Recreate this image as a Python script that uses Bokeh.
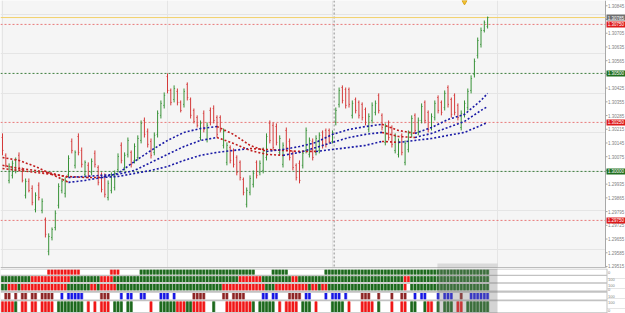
from bokeh.plotting import figure
from bokeh.layouts import column
from bokeh.models import Range1d, BoxAnnotation
from bokeh.embed import file_html
from bokeh.resources import INLINE
from bokeh.core.properties import value

# ---------------- data ----------------
opens = [1.30173, 1.30082, 1.29954, 1.29980, 1.30005, 1.30082, 1.30010, 1.29878, 1.29949, 1.29913,
         1.29806, 1.29929, 1.29801, 1.29755, 1.29592, 1.29663, 1.29714, 1.29827, 1.29903, 1.29888,
         1.29985, 1.30153, 1.30031, 1.30178, 1.30107, 1.29985, 1.30031, 1.29995, 1.30092, 1.30020,
         1.29980, 1.29974, 1.29867, 1.29903, 1.29918, 1.30010, 1.30133, 1.30020, 1.30087, 1.30097,
         1.30056, 1.30071, 1.30158, 1.30260, 1.30204, 1.30153, 1.30097, 1.30189, 1.30286, 1.30337,
         1.30484, 1.30413, 1.30367, 1.30408, 1.30352, 1.30342, 1.30444, 1.30367, 1.30311, 1.30275,
         1.30173, 1.30296, 1.30163, 1.30311, 1.30321, 1.30275, 1.30275, 1.30133, 1.30046, 1.30122,
         1.30107, 1.30071, 1.30046, 1.29959, 1.29832, 1.29893, 1.29934, 1.30046, 1.29995, 1.30005,
         1.30071, 1.30245, 1.30235, 1.30229, 1.30097, 1.30036, 1.30209, 1.30153, 1.30097, 1.30031,
         1.30041, 1.30031, 1.30107, 1.30087, 1.30153, 1.30097, 1.30107, 1.30199, 1.30209, 1.30209,
         1.30153, 1.30250, 1.30342, 1.30428, 1.30418, 1.30418, 1.30286, 1.30367, 1.30352, 1.30342,
         1.30316, 1.30214, 1.30260, 1.30301, 1.30388, 1.30286, 1.30148, 1.30250, 1.30224, 1.30107,
         1.30087, 1.30184, 1.30046, 1.30112, 1.30189, 1.30286, 1.30199, 1.30260, 1.30352, 1.30301,
         1.30224, 1.30275, 1.30377, 1.30352, 1.30326, 1.30428, 1.30367, 1.30388, 1.30337, 1.30224,
         1.30291, 1.30326, 1.30413, 1.30495, 1.30592, 1.30648, 1.30719, 1.30739]
highs = [1.30194, 1.30092, 1.30041, 1.30056, 1.30071, 1.30097, 1.30020, 1.29964, 1.29964, 1.29929,
         1.29893, 1.29944, 1.29862, 1.29765, 1.29684, 1.29714, 1.29801, 1.29939, 1.29964, 1.29969,
         1.30082, 1.30168, 1.30107, 1.30194, 1.30122, 1.30056, 1.30046, 1.30066, 1.30107, 1.30031,
         1.29995, 1.29990, 1.29954, 1.29995, 1.30005, 1.30092, 1.30148, 1.30097, 1.30173, 1.30107,
         1.30143, 1.30184, 1.30260, 1.30275, 1.30219, 1.30168, 1.30199, 1.30311, 1.30362, 1.30403,
         1.30500, 1.30423, 1.30439, 1.30423, 1.30362, 1.30423, 1.30454, 1.30377, 1.30321, 1.30286,
         1.30260, 1.30311, 1.30250, 1.30326, 1.30337, 1.30286, 1.30286, 1.30219, 1.30148, 1.30133,
         1.30117, 1.30082, 1.30056, 1.29969, 1.29918, 1.29980, 1.30005, 1.30056, 1.30056, 1.30122,
         1.30194, 1.30260, 1.30250, 1.30245, 1.30184, 1.30148, 1.30224, 1.30168, 1.30107, 1.30041,
         1.30056, 1.30107, 1.30224, 1.30173, 1.30168, 1.30184, 1.30199, 1.30209, 1.30219, 1.30219,
         1.30209, 1.30326, 1.30428, 1.30439, 1.30428, 1.30428, 1.30362, 1.30377, 1.30362, 1.30352,
         1.30326, 1.30296, 1.30352, 1.30362, 1.30398, 1.30296, 1.30245, 1.30260, 1.30235, 1.30194,
         1.30168, 1.30194, 1.30158, 1.30209, 1.30286, 1.30296, 1.30275, 1.30347, 1.30362, 1.30311,
         1.30296, 1.30362, 1.30388, 1.30362, 1.30413, 1.30439, 1.30377, 1.30398, 1.30347, 1.30311,
         1.30362, 1.30423, 1.30490, 1.30576, 1.30683, 1.30734, 1.30770, 1.30790]
lows = [1.30082, 1.30020, 1.29939, 1.29964, 1.29990, 1.30005, 1.29944, 1.29862, 1.29893, 1.29827,
        1.29791, 1.29852, 1.29786, 1.29663, 1.29572, 1.29648, 1.29699, 1.29811, 1.29888, 1.29867,
        1.29969, 1.30092, 1.30015, 1.30082, 1.30020, 1.29969, 1.29964, 1.29980, 1.30020, 1.29929,
        1.29893, 1.29867, 1.29852, 1.29888, 1.29903, 1.29995, 1.30041, 1.30005, 1.30071, 1.30020,
        1.30041, 1.30056, 1.30143, 1.30173, 1.30122, 1.30066, 1.30082, 1.30173, 1.30270, 1.30321,
        1.30398, 1.30337, 1.30352, 1.30337, 1.30301, 1.30326, 1.30362, 1.30270, 1.30245, 1.30224,
        1.30158, 1.30199, 1.30148, 1.30235, 1.30245, 1.30173, 1.30199, 1.30117, 1.30031, 1.30041,
        1.30020, 1.29980, 1.29954, 1.29878, 1.29816, 1.29878, 1.29918, 1.29964, 1.29980, 1.29990,
        1.30056, 1.30143, 1.30107, 1.30133, 1.30082, 1.30020, 1.30107, 1.30056, 1.30005, 1.29954,
        1.29939, 1.30015, 1.30092, 1.30071, 1.30056, 1.30082, 1.30092, 1.30117, 1.30122, 1.30143,
        1.30143, 1.30235, 1.30326, 1.30347, 1.30321, 1.30326, 1.30270, 1.30296, 1.30270, 1.30260,
        1.30235, 1.30199, 1.30245, 1.30286, 1.30296, 1.30209, 1.30133, 1.30158, 1.30122, 1.30092,
        1.30071, 1.30082, 1.30031, 1.30097, 1.30173, 1.30194, 1.30184, 1.30245, 1.30245, 1.30199,
        1.30209, 1.30260, 1.30296, 1.30286, 1.30311, 1.30326, 1.30275, 1.30286, 1.30260, 1.30209,
        1.30275, 1.30311, 1.30398, 1.30479, 1.30576, 1.30632, 1.30709, 1.30729]
closes = [1.30107, 1.30031, 1.30025, 1.30041, 1.30061, 1.30020, 1.29954, 1.29949, 1.29903, 1.29842,
          1.29878, 1.29867, 1.29847, 1.29679, 1.29668, 1.29704, 1.29786, 1.29923, 1.29949, 1.29954,
          1.30066, 1.30107, 1.30097, 1.30097, 1.30036, 1.30046, 1.29980, 1.30051, 1.30036, 1.29944,
          1.29908, 1.29883, 1.29939, 1.29980, 1.29990, 1.30076, 1.30056, 1.30082, 1.30158, 1.30036,
          1.30127, 1.30168, 1.30245, 1.30189, 1.30138, 1.30082, 1.30184, 1.30296, 1.30347, 1.30388,
          1.30413, 1.30352, 1.30423, 1.30352, 1.30311, 1.30408, 1.30377, 1.30286, 1.30255, 1.30235,
          1.30245, 1.30214, 1.30235, 1.30250, 1.30260, 1.30189, 1.30209, 1.30204, 1.30133, 1.30056,
          1.30036, 1.29995, 1.29969, 1.29893, 1.29903, 1.29964, 1.29990, 1.29980, 1.30041, 1.30107,
          1.30178, 1.30158, 1.30122, 1.30148, 1.30168, 1.30133, 1.30122, 1.30071, 1.30020, 1.29969,
          1.29954, 1.30092, 1.30209, 1.30158, 1.30071, 1.30168, 1.30184, 1.30133, 1.30138, 1.30153,
          1.30199, 1.30311, 1.30413, 1.30362, 1.30337, 1.30342, 1.30347, 1.30311, 1.30286, 1.30275,
          1.30250, 1.30280, 1.30337, 1.30347, 1.30311, 1.30224, 1.30229, 1.30173, 1.30138, 1.30178,
          1.30153, 1.30097, 1.30143, 1.30194, 1.30270, 1.30209, 1.30260, 1.30331, 1.30260, 1.30214,
          1.30280, 1.30347, 1.30311, 1.30301, 1.30398, 1.30342, 1.30291, 1.30301, 1.30275, 1.30296,
          1.30347, 1.30408, 1.30474, 1.30561, 1.30668, 1.30719, 1.30760, 1.30785]

ma_idx = [0, 5, 10, 15, 20, 25, 30, 35, 40, 45, 50, 55, 60, 65, 70, 75, 80, 85, 90, 95,
          100, 105, 110, 115, 120, 125, 130, 135, 140, 145, 147]
ma_fast = [1.30071, 1.30056, 1.30025, 1.29985, 1.29944, 1.29954, 1.29969, 1.29990, 1.30051, 1.30107,
           1.30158, 1.30199, 1.30219, 1.30229, 1.30189, 1.30133, 1.30102, 1.30112, 1.30127, 1.30148,
           1.30189, 1.30214, 1.30229, 1.30240, 1.30209, 1.30194, 1.30224, 1.30265, 1.30291, 1.30362,
           1.30398]
ma_mid = [1.30031, 1.30015, 1.30005, 1.29990, 1.29969, 1.29974, 1.29980, 1.29985, 1.30005, 1.30046,
          1.30087, 1.30127, 1.30158, 1.30173, 1.30143, 1.30107, 1.30087, 1.30082, 1.30097, 1.30122,
          1.30148, 1.30173, 1.30189, 1.30199, 1.30178, 1.30173, 1.30194, 1.30224, 1.30255, 1.30311,
          1.30331]
ma_slow = [1.30015, 1.30005, 1.29995, 1.29985, 1.29974, 1.29969, 1.29969, 1.29974, 1.29990, 1.30005,
           1.30025, 1.30056, 1.30082, 1.30097, 1.30107, 1.30117, 1.30112, 1.30107, 1.30102, 1.30102,
           1.30112, 1.30122, 1.30133, 1.30153, 1.30148, 1.30158, 1.30168, 1.30184, 1.30199, 1.30235,
           1.30250]

level_prices = [1.30750, 1.30500, 1.30250, 1.30000, 1.29750]
level_kinds = ["r", "g", "r", "g", "r"]

tick_prices = [1.30845, 1.30775, 1.30705, 1.30635, 1.30565, 1.30495, 1.30425, 1.30355, 1.30285, 1.30215,
               1.30145, 1.30075, 1.30005, 1.29935, 1.29865, 1.29795, 1.29725, 1.29655, 1.29585, 1.29515]
tick_labels = ["1.30845", "1.30775", "1.30705", "1.30635", "1.30565", "1.30495", "1.30425", "1.30355",
               "1.30285", "1.30215", "1.30145", "1.30075", "1.30005", "1.29935", "1.29865", "1.29795",
               "1.29725", "1.29655", "1.29585", "1.29515"]

session_start_bar = 101
alert_bar = 140
highlight_bars = [131.8, 150.0]

row1_runs = [("w", 14), ("r", 10), ("w", 9), ("r", 3), ("w", 6), ("g", 35), ("w", 5), ("g", 5),
             ("w", 11), ("g", 50)]
row2_runs = [("g", 9), ("r", 12), ("g", 9), ("r", 4), ("g", 38), ("r", 7), ("g", 9), ("r", 2),
             ("g", 32), ("r", 2), ("g", 24)]
row3_runs = [("g", 2), ("r", 3), ("g", 1), ("r", 14), ("g", 7), ("r", 2), ("g", 1), ("r", 5),
             ("g", 32), ("r", 13), ("g", 3), ("r", 10), ("g", 1), ("r", 2), ("g", 1), ("r", 2),
             ("g", 23), ("r", 1), ("w", 1), ("g", 24)]
row4_runs = [("w", 1), ("d", 2), ("w", 1), ("d", 1), ("w", 1), ("d", 2), ("w", 1), ("d", 2), ("w", 1),
             ("d", 4), ("w", 2), ("b", 1), ("w", 1), ("b", 5), ("w", 5), ("d", 3), ("w", 3), ("b", 1),
             ("w", 1), ("b", 2), ("w", 2), ("b", 2), ("w", 4), ("b", 3), ("w", 1), ("b", 1), ("w", 5),
             ("d", 4), ("w", 5), ("d", 2), ("w", 1), ("d", 4), ("w", 5), ("b", 2), ("w", 1), ("b", 2),
             ("w", 3), ("d", 4), ("w", 1), ("b", 2), ("w", 4), ("b", 1), ("w", 1), ("b", 3), ("w", 1),
             ("b", 1), ("w", 4), ("d", 3), ("w", 2), ("d", 1), ("w", 3), ("d", 1), ("w", 2), ("d", 2),
             ("w", 2), ("b", 1), ("w", 1), ("b", 2), ("w", 3), ("b", 1), ("w", 1), ("b", 3), ("w", 2),
             ("d", 1), ("w", 2), ("b", 6)]
row5_runs = [("r", 4), ("g", 1), ("w", 1), ("r", 2), ("w", 1), ("r", 2), ("w", 1), ("r", 4), ("w", 1),
             ("g", 8), ("w", 1), ("r", 1), ("w", 1), ("r", 1), ("w", 1), ("r", 3), ("w", 1), ("g", 3),
             ("w", 1), ("g", 2), ("w", 5), ("r", 1), ("w", 2), ("g", 5), ("r", 3), ("g", 2), ("r", 4),
             ("w", 2), ("g", 1), ("w", 3), ("r", 8), ("g", 1), ("w", 1), ("g", 5), ("w", 1), ("r", 1),
             ("w", 1), ("r", 4), ("w", 1), ("g", 3), ("w", 1), ("r", 1), ("w", 4), ("g", 4), ("w", 1),
             ("r", 1), ("w", 3), ("r", 4), ("w", 1), ("g", 1), ("w", 3), ("r", 1), ("w", 2), ("r", 2),
             ("w", 1), ("g", 2), ("w", 2), ("g", 1), ("r", 2), ("w", 1), ("g", 1), ("w", 1), ("g", 3),
             ("w", 1), ("r", 2), ("w", 1), ("g", 7)]
row_scale_labels = [[("0", "mid")], [("100", "mid")], [("100", "top"), ("0", "bot")],
                    [("100", "mid")], [("100", "top"), ("0", "bot")]]

# ---------------- layout helpers ----------------
W, H_MAIN, H_PAN = 625, 268, 45
STEP, X0PX = 3.3, 2.0
TOP, PPX = 1.30872, 5.102e-5
BOT = TOP - H_MAIN * PPX
FRAME_R = 605
FONT = value("Liberation Sans")


def bx(px):
    return (px - X0PX) / STEP


def py(ypx):
    return TOP - ypx * PPX


UP, DOWN = "#389238", "#d43a3a"
MA_RED, MA_BLUE = "#c01c1c", "#1a1aa6"

xr = Range1d(bx(0), bx(W))
p = figure(width=W, height=H_MAIN, x_range=xr, y_range=Range1d(BOT, TOP),
           output_backend="svg", toolbar_location=None, x_axis_location=None,
           y_axis_location=None, min_border=0, background_fill_color="#f5f5f5",
           border_fill_color="white", outline_line_color=None)

# price scale area
p.quad(left=[bx(FRAME_R)], right=[bx(W)], bottom=[BOT], top=[TOP], fill_color="white", line_color=None)
p.segment(x0=[bx(FRAME_R)], x1=[bx(FRAME_R)], y0=[BOT], y1=[TOP], line_color="#a8a8a8", line_width=1)
p.quad(left=[bx(0)], right=[bx(FRAME_R + 1)], top=[py(266.6)], bottom=[py(268.2)],
       fill_color="#bcbcbc", line_color=None)

# session separator
sx = session_start_bar - 0.5
p.segment(x0=[sx], x1=[sx], y0=[py(266)], y1=[TOP], line_color="#8c8c8c", line_dash="2 2", line_width=1)

# levels
lv_colors = ["#ea7a7a" if k == "r" else "#3f7f3f" for k in level_kinds]
p.segment(x0=[bx(0)] * len(level_prices), x1=[bx(FRAME_R)] * len(level_prices),
          y0=level_prices, y1=level_prices, line_color=lv_colors, line_dash="2 2", line_width=1)
# current price line
p.segment(x0=[bx(0)], x1=[bx(FRAME_R)], y0=[closes[-1]], y1=[closes[-1]], line_color="#f2d06a", line_width=1)

# bars
idx = list(range(len(closes)))
bar_colors = [UP if c >= o else DOWN for o, c in zip(opens, closes)]
p.segment(x0=idx, x1=idx, y0=lows, y1=highs, line_color=bar_colors, line_width=1)
p.segment(x0=[i - 0.3 for i in idx], x1=idx, y0=opens, y1=opens, line_color=bar_colors, line_width=0.8)
p.segment(x0=idx, x1=[i + 0.3 for i in idx], y0=closes, y1=closes, line_color=bar_colors, line_width=0.8)


# moving averages coloured by slope
def ma_runs(vals):
    xs, ys, cs = [], [], []
    cur = None
    for k in range(len(ma_idx) - 1):
        c = MA_BLUE if vals[k + 1] > vals[k] else MA_RED
        if c != cur:
            xs.append([ma_idx[k]])
            ys.append([vals[k]])
            cs.append(c)
            cur = c
        xs[-1].append(ma_idx[k + 1])
        ys[-1].append(vals[k + 1])
    return xs, ys, cs


for ma in (ma_slow, ma_mid, ma_fast):
    xs, ys, cs = ma_runs(ma)
    p.multi_line(xs=xs, ys=ys, line_color=cs, line_width=1.6, line_dash="2 2")

# alert marker
p.scatter(x=[alert_bar], y=[py(1.5)], marker="inverted_triangle", size=5,
          fill_color="#f2c230", line_color="#d9a520")

# level boxes
boxes = [(closes[-1], "#6f6f6f")] + [(lp, "#dd1a1a" if k == "r" else "#1f6f1f")
                                      for lp, k in zip(level_prices, level_kinds)]
box_prices = [b[0] for b in boxes]

# ticks and tick labels (skip those hidden under boxes)
tx, ty, tt = [], [], []
for tp, tl in zip(tick_prices, tick_labels):
    if all(abs(tp - bp) / PPX > 4.6 for bp in box_prices):
        tx.append(bx(607.5))
        ty.append(tp)
        tt.append(tl)
p.segment(x0=[bx(FRAME_R)] * len(tick_prices), x1=[bx(FRAME_R + 2)] * len(tick_prices),
          y0=tick_prices, y1=tick_prices, line_color="#a8a8a8", line_width=1)
p.text(x=tx, y=ty, text=tt, text_font=FONT, text_font_size="4.5px", text_color="#808080",
       text_baseline="middle", text_align="left")

bw = bx(W) - bx(FRAME_R + 1)
p.rect(x=[bx(FRAME_R + 1) + bw / 2] * len(boxes), y=box_prices, width=bw, height=6 * PPX,
       fill_color=[b[1] for b in boxes], line_color=None)
p.text(x=[bx(607.2)] * len(boxes), y=box_prices, text=["%.5f" % b for b in box_prices],
       text_font=FONT, text_font_size="4.5px", text_color="white",
       text_baseline="middle", text_align="left")

# ---------------- indicator panel ----------------
q = figure(width=W, height=H_PAN, x_range=xr, y_range=Range1d(H_PAN, 0),
           output_backend="svg", toolbar_location=None, x_axis_location=None,
           y_axis_location=None, min_border=0, background_fill_color="white",
           border_fill_color="white", outline_line_color=None)

rows = [(1.0, 6.2), (7.6, 13.8), (15.2, 22.0), (24.2, 31.0), (32.8, 43.8)]
q.quad(left=[bx(0)], right=[bx(FRAME_R + 2)], top=[0], bottom=[H_PAN], fill_color="#c2c2c2", line_color=None)
q.quad(left=[bx(0)] * 5, right=[bx(FRAME_R + 1)] * 5, top=[r[0] for r in rows], bottom=[r[1] for r in rows],
       fill_color="white", line_color=None)

kind_fg = {"g": "#1c681c", "r": "#f01616", "b": "#1616e4", "d": "#8c2424"}
kind_bg = {"g": "#6d9f6d", "r": "#f58080", "b": "#9090f0", "d": "#c89090"}
all_runs = [row1_runs, row2_runs, row3_runs, row4_runs, row5_runs]
bl, br, bt, bb, bc = [], [], [], [], []
fl, fr, ft, fb, fc = [], [], [], [], []
for (rt, rb), runs in zip(rows, all_runs):
    i = 0
    for kind, n in runs:
        for _ in range(n):
            if kind != "w":
                bl.append(i - 0.5); br.append(i + 0.5); bt.append(rt + 0.2); bb.append(rb - 0.2)
                bc.append(kind_bg[kind])
                fl.append(i - 0.32); fr.append(i + 0.32); ft.append(rt + 0.2); fb.append(rb - 0.2)
                fc.append(kind_fg[kind])
            i += 1
q.quad(left=bl, right=br, top=bt, bottom=bb, fill_color=bc, line_color=None)
q.quad(left=fl, right=fr, top=ft, bottom=fb, fill_color=fc, line_color=None)

q.add_layout(BoxAnnotation(left=highlight_bars[0], right=highlight_bars[1], fill_color="#7c7c7c",
                           fill_alpha=0.33, line_color=None))
p.add_layout(BoxAnnotation(left=highlight_bars[0], right=highlight_bars[1], bottom=BOT,
                           top=py(263), fill_color="#9a9a9a", fill_alpha=0.3, line_color=None))

lx, ly, lt = [], [], []
for (rt, rb), labs in zip(rows, row_scale_labels):
    for txt, pos in labs:
        lx.append(bx(607.5))
        ly.append(rt + 1.6 if pos == "top" else (rb - 1.4 if pos == "bot" else (rt + rb) / 2))
        lt.append(txt)
q.text(x=lx, y=ly, text=lt, text_font=FONT, text_font_size="4px", text_color="#808080",
       text_baseline="middle", text_align="left")

layout = column(p, q, spacing=0)
open("out.html", "w").write(file_html(layout, INLINE))
